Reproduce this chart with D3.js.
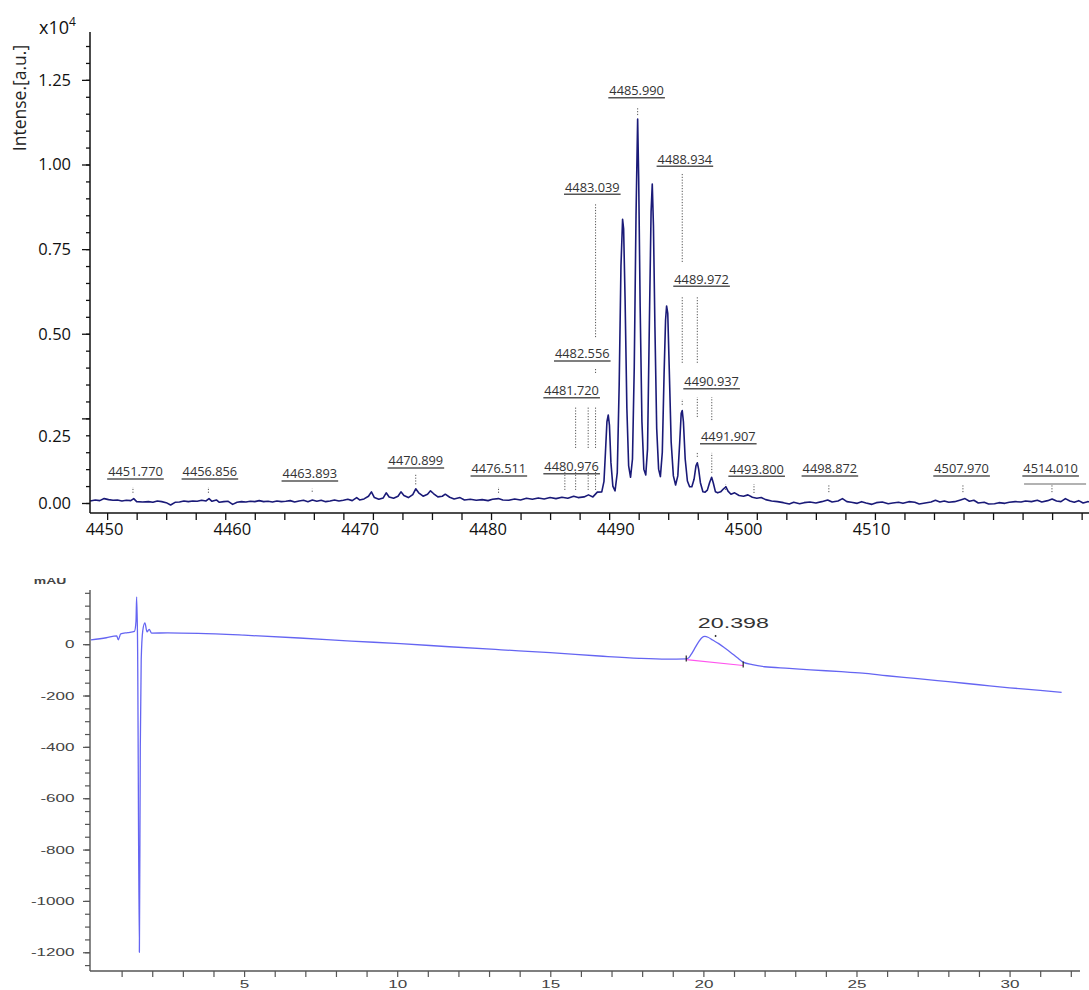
<!DOCTYPE html>
<html>
<head>
<meta charset="utf-8">
<script src="https://cdn.jsdelivr.net/npm/d3@7"></script>
<style>
  body { margin: 0; background: #fff; }
  svg { display: block; font-family: "Open Sans", sans-serif; }
</style>
</head>
<body>
<svg id="chart"></svg>
<script>
// ---- MALDI spectrum: [m/z, intensity a.u.] ----
const msLow = [
  [4448.85, 60], [4449.2, 90], [4449.5, 70], [4449.8, 130], [4450.1, 100], [4450.4, 80],
  [4450.7, 90], [4451.0, 60], [4451.3, 80], [4451.6, 70], [4451.8, 130], [4452.0, 40],
  [4452.4, 30], [4452.8, 40], [4453.1, 20], [4453.4, 60], [4453.7, 40], [4454.0, 10],
  [4454.3, -60], [4454.6, 20], [4454.9, 30], [4455.2, 60], [4455.5, 40], [4455.8, 60],
  [4456.1, 50], [4456.4, 80], [4456.7, 60], [4456.9, 130], [4457.1, 50], [4457.4, 90],
  [4457.6, 20], [4457.9, 40], [4458.2, 50], [4458.5, -40], [4458.8, 20], [4459.1, 40],
  [4459.4, 30], [4459.7, 50], [4460.0, 40], [4460.3, 70], [4460.6, 40], [4460.9, 50],
  [4461.2, 30], [4461.5, 60], [4461.8, 40], [4462.1, 50], [4462.4, 70], [4462.7, 30],
  [4463.0, 60], [4463.3, 80], [4463.6, 40], [4463.9, 90], [4464.2, 50], [4464.5, 80],
  [4464.8, 40], [4465.1, 60], [4465.4, 90], [4465.7, 60], [4466.0, 80], [4466.3, 110],
  [4466.6, 70], [4466.9, 160], [4467.1, 90], [4467.4, 120], [4467.7, 200], [4467.9, 330],
  [4468.1, 160], [4468.4, 110], [4468.7, 150], [4468.9, 300], [4469.1, 180], [4469.4, 140],
  [4469.7, 200], [4469.9, 330], [4470.1, 220], [4470.4, 160], [4470.7, 250], [4470.9, 420],
  [4471.1, 300], [4471.4, 200], [4471.7, 260], [4471.9, 360], [4472.1, 280], [4472.4, 180],
  [4472.7, 200], [4472.9, 260], [4473.2, 170], [4473.5, 120], [4473.9, 160], [4474.2, 90],
  [4474.6, 110], [4475.0, 80], [4475.4, 100], [4475.8, 70], [4476.1, 110], [4476.5, 130],
  [4476.8, 90], [4477.2, 80], [4477.6, 120], [4478.0, 90], [4478.4, 140], [4478.8, 110],
  [4479.2, 150], [4479.6, 120], [4480.0, 160], [4480.4, 130], [4480.8, 170], [4481.2, 140],
  [4481.6, 200], [4481.9, 160], [4482.3, 180], [4482.6, 240], [4482.9, 180], [4483.2, 320]
];
const msCluster = [
  [4483.5, 330], [4483.65, 640], [4483.75, 1500], [4483.85, 2400], [4483.94, 2600],
  [4484.02, 2300], [4484.12, 1200], [4484.25, 500], [4484.4, 360], [4484.55, 900],
  [4484.68, 3500], [4484.8, 7000], [4484.91, 8380], [4484.98, 8100], [4485.08, 6000],
  [4485.2, 2800], [4485.32, 1100], [4485.45, 760], [4485.58, 1300], [4485.7, 4000],
  [4485.82, 8500], [4485.93, 11340], [4486.0, 9600], [4486.1, 5800], [4486.22, 2400],
  [4486.35, 1000], [4486.48, 830], [4486.6, 1600], [4486.72, 5200], [4486.84, 8600],
  [4486.92, 9420], [4487.0, 8200], [4487.1, 5200], [4487.22, 2200], [4487.35, 1000],
  [4487.47, 780], [4487.6, 1500], [4487.72, 3800], [4487.82, 5400], [4487.89, 5820],
  [4487.97, 5600], [4488.08, 3800], [4488.2, 1800], [4488.35, 800], [4488.5, 530],
  [4488.65, 800], [4488.78, 1800], [4488.88, 2650], [4488.95, 2730], [4489.03, 2400],
  [4489.15, 1300], [4489.3, 650], [4489.45, 480], [4489.6, 480], [4489.75, 700],
  [4489.88, 1100], [4489.97, 1190], [4490.06, 1000], [4490.18, 600], [4490.35, 330],
  [4490.5, 320], [4490.65, 380], [4490.8, 600], [4490.94, 760], [4491.05, 600],
  [4491.2, 330], [4491.35, 300], [4491.55, 330], [4491.75, 420], [4491.91, 480],
  [4492.05, 350], [4492.25, 260], [4492.5, 300], [4492.8, 220], [4493.1, 200],
  [4493.4, 240], [4493.7, 170], [4494.0, 140], [4494.3, 160], [4494.6, 100], [4495.0, 60]
];
const msHigh = [
  [4495.4, 40], [4495.8, 10], [4496.2, -30], [4496.5, 20], [4496.9, -20], [4497.2, 10],
  [4497.6, 30], [4498.0, 0], [4498.4, 40], [4498.8, 90], [4499.1, 30], [4499.5, 60],
  [4499.8, 130], [4500.1, 40], [4500.4, 20], [4500.8, -10], [4501.1, 40], [4501.4, 0],
  [4501.8, -40], [4502.1, 10], [4502.5, 30], [4502.9, -20], [4503.2, 0], [4503.6, 20],
  [4503.9, -10], [4504.3, 40], [4504.7, 20], [4505.0, -30], [4505.4, 0], [4505.8, 30],
  [4506.1, 80], [4506.4, 30], [4506.7, 60], [4507.0, 20], [4507.4, 40], [4507.8, 90],
  [4508.1, 130], [4508.4, 50], [4508.7, 80], [4509.0, 0], [4509.4, 20], [4509.7, -30],
  [4510.1, -20], [4510.4, 10], [4510.8, -10], [4511.1, 20], [4511.5, 40], [4511.9, 30],
  [4512.2, 60], [4512.6, 40], [4513.0, 80], [4513.3, 30], [4513.7, 70], [4514.0, 120],
  [4514.3, 60], [4514.6, 40], [4514.9, 130], [4515.2, 60], [4515.5, 20], [4515.8, 70],
  [4516.1, 0], [4516.4, 40], [4516.6, 30]
];

// peak labels: [text, m/z the label is centred on, level a.u.]
const msLabels = [
  ["4451.770", 4451.92, 916], ["4456.856", 4456.96, 916], ["4463.893", 4463.73, 857],
  ["4470.899", 4470.91, 1241], ["4476.511", 4476.53, 1004], ["4480.976", 4481.46, 1072],
  ["4481.720", 4481.46, 3318], ["4482.556", 4482.18, 4402], ["4483.039", 4482.86, 9326],
  ["4485.990", 4485.86, 12180], ["4488.934", 4489.13, 10154], ["4489.972", 4490.26, 6609],
  ["4490.937", 4490.94, 3583], ["4491.907", 4492.07, 1959], ["4493.800", 4493.99, 996],
  ["4498.872", 4498.95, 1004], ["4507.970", 4507.87, 1004], ["4514.010", 4513.90, 1004]
];
// dotted leader lines: [m/z, from a.u., to a.u.]
const msLeaders = [
  [4451.75, 300, 470], [4456.86, 300, 470], [4463.89, 330, 420], [4470.90, 550, 880],
  [4476.51, 300, 470], [4481.0, 385, 925], [4481.73, 385, 925], [4482.58, 385, 925],
  [4483.08, 385, 925], [4481.73, 1625, 2865], [4482.58, 1625, 2865], [4483.08, 1625, 2865],
  [4483.08, 3840, 3990], [4483.08, 4900, 8860], [4485.93, 11460, 11670], [4488.95, 7120, 9750],
  [4488.95, 4140, 6090], [4489.97, 4140, 6090], [4488.95, 2900, 3070], [4489.97, 2540, 3130],
  [4490.95, 2450, 3130], [4489.97, 1360, 1510], [4490.95, 890, 1480], [4491.89, 385, 560],
  [4493.81, 295, 560], [4498.88, 320, 530], [4507.96, 320, 530], [4513.99, 320, 530]
];
const msRule = [[4512.1, 560], [4516.3, 560]];
const msTickLabels = [4450, 4460, 4470, 4480, 4490, 4500, 4510];
const msYTicks = [0, 2500, 5000, 7500, 10000, 12500];

// ---- HPLC trace: [minutes, mAU] ----
const hplcTrace = [
  [0, 17], [0.5, 25], [0.84, 32], [0.89, 17], [0.97, 40], [1.2, 45], [1.42, 50], [1.47, 90],
  [1.49, 184], [1.52, 17], [1.58, -1200], [1.61, -400], [1.64, -60], [1.69, 52], [1.76, 83],
  [1.83, 48], [1.9, 58], [1.98, 43], [2.5, 44], [3.5, 42], [5, 35], [6.8, 24], [8.5, 12],
  [10.1, 2], [11.7, -10], [13.4, -22], [15, -33], [16.6, -46], [17.9, -55], [18.8, -58],
  [19.44, -57], [19.5, -55], [19.6, -40], [19.7, -20], [19.85, 10], [19.95, 25], [20.05, 30],
  [20.15, 27], [20.3, 16], [20.5, 2], [20.7, -15], [20.9, -33], [21.1, -52], [21.3, -70],
  [21.6, -80], [22.0, -88], [22.8, -94], [23.5, -100], [24.5, -107], [25.2, -113], [26, -123],
  [27, -134], [28, -146], [29, -158], [30, -170], [31, -180], [31.7, -188]
];
const hplcBaseline = [[19.44, -60], [21.3, -83]];
const hplcApex = [20.398, 32];
const hplcLabel = { text: "20.398", t: 20.98, mAU: 83 };
const hplcYTicks = [0, -200, -400, -600, -800, -1000, -1200];

let svg = d3.select("#chart")
  .attr("width", 1089)
  .attr("height", 990);

// ================= upper panel: mass spectrum =================
let upper = svg.append("g");

let xMS = d3.scaleLinear().domain([4448.84, 4516.6]).range([90, 1090.5]);
let yMS = d3.scaleLinear().domain([0, 13914]).range([503, 32]);
// the printed m/z numbers under the axis sit on their own spacing
let xMSLabel = d3.scaleLinear().domain([4450, 4510]).range([104, 871]);
const msAxisY = 513;

svg.append("defs").append("clipPath").attr("id", "msclip")
  .append("rect").attr("x", 90).attr("y", 0).attr("width", 999).attr("height", msAxisY);

// leaders
upper.append("g")
  .selectAll("line")
  .data(msLeaders)
  .join("line")
    .attr("x1", d => xMS(d[0])).attr("x2", d => xMS(d[0]))
    .attr("y1", d => yMS(d[1])).attr("y2", d => yMS(d[2]))
    .attr("stroke", "#555")
    .attr("stroke-width", 1)
    .attr("stroke-dasharray", "1.2,1.6");

upper.append("line")
  .attr("x1", xMS(msRule[0][0])).attr("x2", xMS(msRule[1][0]))
  .attr("y1", yMS(msRule[0][1])).attr("y2", yMS(msRule[1][1]))
  .attr("stroke", "#999").attr("stroke-width", 1.5);

// spectrum trace
let msLine = d3.line().x(d => xMS(d[0])).y(d => yMS(d[1]));
upper.append("path")
  .datum(msLow.concat(msCluster, msHigh))
  .attr("clip-path", "url(#msclip)")
  .attr("d", msLine)
  .attr("fill", "none")
  .attr("stroke", "#1a1a78")
  .attr("stroke-width", 1.6)
  .attr("stroke-linejoin", "round");

// peak labels with underline
msLabels.forEach(([txt, at, lvl]) => {
  let g = upper.append("g").attr("transform", `translate(${xMS(at)},${yMS(lvl)})`);
  let t = g.append("text")
    .attr("text-anchor", "middle")
    .attr("dy", "0.35em")
    .attr("font-size", 12.8)
    .attr("fill", "#333")
    .text(txt);
  let w = t.node().getComputedTextLength();
  g.append("line")
    .attr("x1", -w / 2 - 1).attr("x2", w / 2 + 1)
    .attr("y1", 7).attr("y2", 7)
    .attr("stroke", "#555").attr("stroke-width", 1.4);
});

// y axis
upper.append("g")
  .attr("transform", "translate(90,0)")
  .call(d3.axisLeft(yMS).tickValues(d3.range(0, 13600, 500)).tickSize(4).tickFormat(""))
  .call(g => g.select(".domain").remove());
let yAx = upper.append("g")
  .attr("transform", "translate(90,0)")
  .call(d3.axisLeft(yMS).tickValues(msYTicks).tickSize(8).tickPadding(11)
    .tickFormat(d => (d / 1e4).toFixed(2)))
  .call(g => g.select(".domain").remove());
yAx.selectAll("text").attr("font-size", 16.5).attr("font-family", "Open Sans").attr("fill", "#111");
yAx.selectAll("text").filter(d => d === 2500).attr("dy", "1.4em");
upper.selectAll(".tick line").attr("stroke", "#111").attr("stroke-width", 1.3);

upper.append("line")
  .attr("x1", 90).attr("x2", 90).attr("y1", 32).attr("y2", msAxisY)
  .attr("stroke", "#111").attr("stroke-width", 1.5);

// x axis
let xAx = upper.append("g")
  .attr("transform", `translate(0,${msAxisY})`)
  .call(d3.axisBottom(xMS).tickValues(d3.range(4450, 4517, 2)).tickSize(7).tickFormat(""))
  .call(g => g.select(".domain").remove());
xAx.selectAll("line").attr("stroke", "#111").attr("stroke-width", 1.3);
upper.append("line")
  .attr("x1", 90).attr("x2", 1089).attr("y1", msAxisY).attr("y2", msAxisY)
  .attr("stroke", "#111").attr("stroke-width", 1.5);

let xLab = upper.append("g")
  .attr("transform", `translate(0,${msAxisY})`)
  .call(d3.axisBottom(xMSLabel).tickValues(msTickLabels).tickSize(0).tickPadding(10).tickFormat(d3.format("d")))
  .call(g => g.select(".domain").remove());
xLab.selectAll("text").attr("font-size", 16.5).attr("font-family", "Open Sans").attr("fill", "#111");

// titles
upper.append("text")
  .attr("transform", "translate(26,98) rotate(-90)")
  .attr("text-anchor", "middle")
  .attr("font-size", 17.5)
  .attr("fill", "#222")
  .text("Intense.[a.u.]");
let x10 = upper.append("text")
  .attr("x", 39).attr("y", 34)
  .attr("font-size", 18)
  .attr("fill", "#111")
  .text("x10");
x10.append("tspan").attr("dy", -8).attr("font-size", 12).text("4");

// ================= lower panel: HPLC chromatogram =================
let lower = svg.append("g").attr("font-family", "Liberation Sans, Arial, sans-serif");

let xLC = d3.scaleLinear().domain([0, 32.3]).range([91, 1080]);
let yLC = d3.scaleLinear().domain([-1273, 211]).range([971, 590]);
const stretch = "scale(1.55,1)";

let lcLine = d3.line().x(d => xLC(d[0])).y(d => yLC(d[1])).curve(d3.curveMonotoneX);
lower.append("path")
  .datum(hplcTrace)
  .attr("d", lcLine)
  .attr("fill", "none")
  .attr("stroke", "#4a4af0")
  .attr("stroke-opacity", 0.85)
  .attr("stroke-width", 1.3);

lower.append("path")
  .datum(hplcBaseline)
  .attr("d", d3.line().x(d => xLC(d[0])).y(d => yLC(d[1])))
  .attr("stroke", "#ff55ee")
  .attr("stroke-width", 1.2);

lower.selectAll(".pk-end")
  .data(hplcBaseline)
  .join("line")
    .attr("class", "pk-end")
    .attr("x1", d => xLC(d[0])).attr("x2", d => xLC(d[0]))
    .attr("y1", d => yLC(d[1]) - 4).attr("y2", d => yLC(d[1]) + 2)
    .attr("stroke", "#222").attr("stroke-width", 1.2);

lower.append("line")
  .attr("x1", xLC(hplcApex[0])).attr("x2", xLC(hplcApex[0]))
  .attr("y1", yLC(hplcApex[1]) - 1).attr("y2", yLC(hplcApex[1]) + 1)
  .attr("stroke", "#333").attr("stroke-width", 1.5);

lower.append("text")
  .attr("transform", `translate(${xLC(hplcLabel.t)},${yLC(hplcLabel.mAU)}) ${stretch}`)
  .attr("text-anchor", "middle")
  .attr("dy", "0.35em")
  .attr("font-size", 15)
  .attr("fill", "#333")
  .text(hplcLabel.text);

// y axis
lower.append("g")
  .attr("transform", "translate(90,0)")
  .call(d3.axisLeft(yLC).tickValues(d3.range(-1250, 201, 50)).tickSize(5).tickFormat(""))
  .call(g => g.select(".domain").remove());
let lcY = lower.append("g")
  .attr("transform", "translate(90,0)")
  .call(d3.axisLeft(yLC).tickValues(hplcYTicks).tickSize(7).tickPadding(3).tickFormat(d => String(d)))
  .call(g => g.select(".domain").remove());
lcY.selectAll("text")
  .attr("transform", stretch)
  .attr("font-size", 11)
  .attr("font-family", "Liberation Sans")
  .attr("fill", "#444");

// x axis
let lcX = lower.append("g")
  .attr("transform", "translate(0,971)")
  .call(d3.axisBottom(xLC).tickValues(d3.range(1, 33)).tickSize(6).tickPadding(3)
    .tickFormat(d => d % 5 === 0 ? d : ""))
  .call(g => g.select(".domain").remove());
lcX.selectAll("text")
  .attr("transform", stretch)
  .attr("font-size", 11)
  .attr("font-family", "Liberation Sans")
  .attr("fill", "#444");
lower.selectAll(".tick line").attr("stroke", "#555").attr("stroke-width", 1.2);

lower.append("line")
  .attr("x1", 90).attr("x2", 90).attr("y1", 590).attr("y2", 971)
  .attr("stroke", "#555").attr("stroke-width", 1.4);
lower.append("line")
  .attr("x1", 90).attr("x2", 1080).attr("y1", 971).attr("y2", 971)
  .attr("stroke", "#555").attr("stroke-width", 1.4);

lower.append("text")
  .attr("transform", `translate(50,584) ${stretch}`)
  .attr("text-anchor", "middle")
  .attr("font-size", 9)
  .attr("font-weight", "bold")
  .attr("fill", "#444")
  .text("mAU");
</script>
</body>
</html>
